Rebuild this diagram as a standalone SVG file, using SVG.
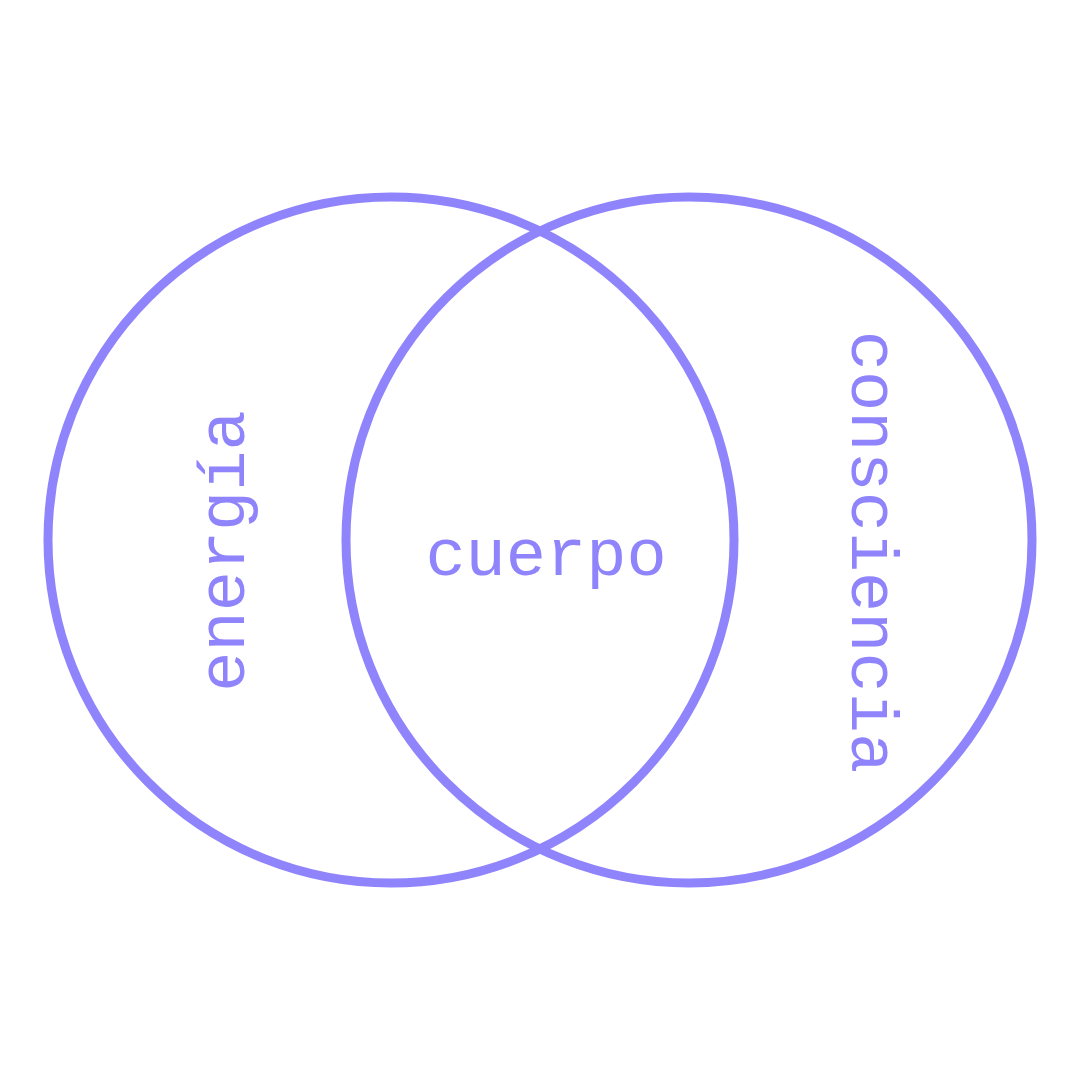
<svg xmlns="http://www.w3.org/2000/svg" width="1080" height="1080" viewBox="0 0 1080 1080">
<style>
.c{fill:none;stroke:#8f84fb;stroke-width:9}
.t{fill:#8f84fb;font-family:"Liberation Mono","DejaVu Sans Mono",monospace;font-size:67px;text-anchor:middle}
</style>
<rect width="1080" height="1080" fill="#fff"/>
<g id="connectors"></g>
<g id="energia"><circle class="c" cx="391" cy="540" r="343"/><text class="t" transform="translate(244,551) rotate(-90)">energía</text></g>
<g id="consciencia"><circle class="c" cx="689" cy="540" r="343"/><text class="t" transform="translate(852,552) rotate(90)">consciencia</text></g>
<g id="cuerpo"><text class="t" x="546" y="575">cuerpo</text></g>
</svg>
